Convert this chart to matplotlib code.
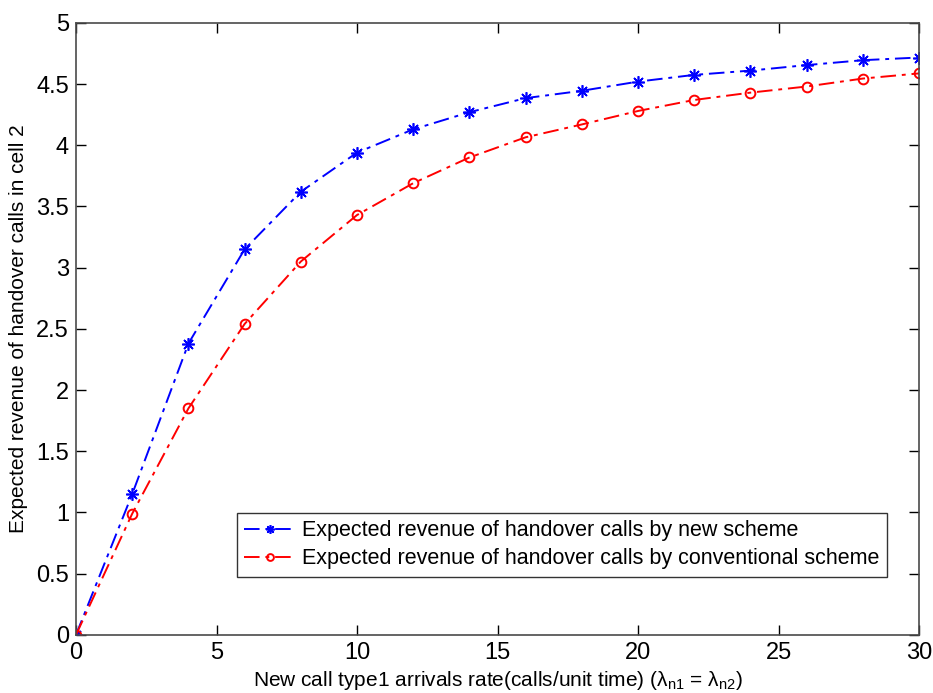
import matplotlib
matplotlib.use("Agg")
import matplotlib.pyplot as plt

# Arrival rate of type-1 new calls
arrival_rate = [0, 2, 4, 6, 8, 10, 12, 14, 16, 18, 20, 22, 24, 26, 28, 30]

# Expected revenue of handover calls in cell 2
revenue_new = [0, 1.15, 2.38, 3.15, 3.62, 3.94, 4.13, 4.27, 4.385, 4.445,
               4.52, 4.575, 4.61, 4.655, 4.695, 4.717]
revenue_conv = [0, 0.99, 1.85, 2.54, 3.05, 3.43, 3.69, 3.90, 4.065, 4.17,
                4.28, 4.37, 4.43, 4.48, 4.545, 4.587]

label_new = "Expected revenue of handover calls by new scheme"
label_conv = "Expected revenue of handover calls by conventional scheme"
xlabel = r"New call type1 arrivals rate(calls/unit time) ($\lambda_{n1}$ = $\lambda_{n2}$)"
ylabel = "Expected revenue of handover calls in cell 2"

xticks = [0, 5, 10, 15, 20, 25, 30]
yticks = [0, 0.5, 1, 1.5, 2, 2.5, 3, 3.5, 4, 4.5, 5]

family = "Liberation Sans"
plt.rcParams["font.family"] = [family, "DejaVu Sans"]
plt.rcParams["mathtext.fontset"] = "custom"
plt.rcParams["mathtext.rm"] = family
plt.rcParams["mathtext.it"] = family
plt.rcParams["mathtext.default"] = "rm"

fig = plt.figure(figsize=(9.33, 6.93), dpi=100)
ax = fig.add_axes([0.0815, 0.084, 0.9035, 0.883])

asterisk = (8, 2, 0)
ax.plot(arrival_rate, revenue_new, color="#0000ff", linestyle=(0, (8, 3, 2, 3)),
        linewidth=1.4, marker=asterisk, markersize=9, markeredgewidth=1.2,
        markerfacecolor="#0000ff", markeredgecolor="#0000ff", label=label_new)
ax.plot(arrival_rate, revenue_conv, color="#ff0000", linestyle=(0, (8, 3, 2, 3)),
        linewidth=1.4, marker="o", markersize=7, markerfacecolor="none",
        markeredgecolor="#ff0000", markeredgewidth=1.4, label=label_conv)

ax.set_xlim(0, 30)
ax.set_ylim(0, 5)
ax.set_xticks(xticks)
ax.set_yticks(yticks)
ax.set_xticklabels([f"{v:g}" for v in xticks], fontsize=17)
ax.set_yticklabels([f"{v:g}" for v in yticks], fontsize=17)
ax.tick_params(direction="in", length=7, width=1, top=True, right=True,
               colors="#000000", pad=5)
for side in ax.spines.values():
    side.set_color("#4a4a4a")
    side.set_linewidth(1.2)

ax.set_xlabel(xlabel, fontsize=15, labelpad=4)
ax.set_ylabel(ylabel, fontsize=15, labelpad=6)

leg = ax.legend(loc="lower right", bbox_to_anchor=(0.975, 0.077), fontsize=15.5,
                frameon=True, fancybox=False, edgecolor="#000000",
                handlelength=2.4, handletextpad=0.3, borderpad=0.35,
                labelspacing=0.32, markerscale=0.7)
leg.get_frame().set_linewidth(1.0)

fig.savefig("out.png", dpi=100)
